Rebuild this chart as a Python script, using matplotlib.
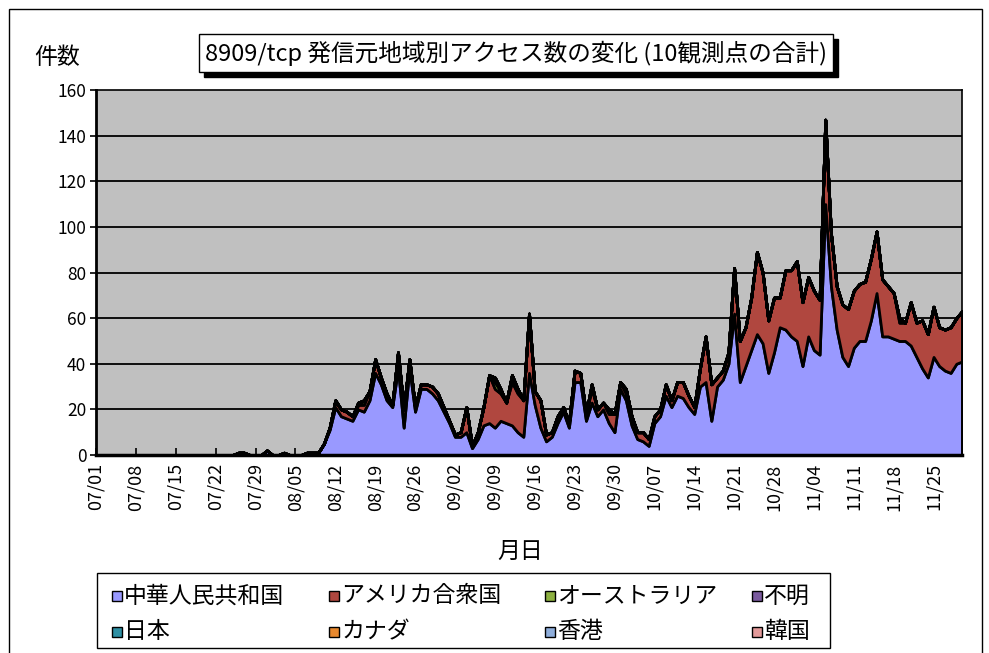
import matplotlib
matplotlib.use("Agg")
import matplotlib.pyplot as plt
from matplotlib.patches import Rectangle
import numpy as np
import pandas as pd

plt.rcParams['font.family'] = ['Noto Sans CJK JP', 'DejaVu Sans']

# daily dates 07/01 .. 11/30
dates = pd.date_range('2007-07-01', '2007-11-30', freq='D')
n = len(dates)

# total and China (from 07/01)
total = [0]*25 + [1, 1, 0, 0, 0, 2, 0, 0, 1, 0, 0, 0, 1, 1,
         1, 5, 12, 24, 20, 19, 17, 23, 24, 28, 42, 34, 27, 22, 45, 20, 42, 21, 31,
         31, 30, 27, 21, 15, 9, 10, 21, 4, 10, 21, 35, 34, 29, 23, 35, 29, 24, 62,
         28, 24, 9, 10, 17, 21, 14, 37, 36, 18, 31, 20, 23, 20, 18, 32, 29, 17,
         10, 10, 7, 17, 20, 31, 24, 32, 32, 26, 21, 38, 52, 31, 34, 37, 45, 82,
         50, 56, 69, 89, 80, 59, 69, 69, 81, 81, 85, 67, 78, 72, 68, 147, 97, 74,
         66, 64, 72, 75, 76, 86, 98, 77, 74, 71, 60, 58, 67, 58, 59, 53, 65, 56,
         55, 56, 60, 63]
china = [0]*25 + [1, 1, 0, 0, 0, 2, 0, 0, 1, 0, 0, 0, 1, 1,
         1, 5, 11, 21, 17, 16, 15, 20, 19, 24, 36, 31, 24, 21, 38, 12, 38, 19, 29,
         29, 27, 24, 19, 14, 8, 8, 10, 3, 7, 13, 14, 12, 15, 14, 13, 10, 8, 36,
         22, 12, 6, 8, 14, 19, 12, 32, 32, 15, 23, 17, 20, 14, 10, 29, 24, 13,
         7, 6, 4, 14, 17, 26, 21, 26, 25, 21, 18, 30, 32, 15, 30, 33, 40, 62,
         32, 39, 46, 53, 49, 36, 45, 56, 55, 52, 50, 39, 52, 46, 44, 110, 74, 55,
         43, 39, 47, 50, 50, 59, 71, 52, 52, 51, 50, 50, 48, 43, 38, 34, 43, 39,
         37, 36, 40, 41]

# small series: (day index, value)
australia_pts = {47: 2, 51: 2, 70: 3, 71: 1, 73: 3, 74: 2, 87: 2, 90: 2, 93: 2, 141: 2}
unknown_pts = {70: 2, 71: 1}
japan_pts = {46: 1}

labels = ['中華人民共和国', 'アメリカ合衆国', 'オーストラリア', '不明',
          '日本', 'カナダ', '香港', '韓国']
colors = ['#9999FF', '#B0473F', '#8DB040', '#7A5A9E',
          '#2E8FA3', '#E8892F', '#8FAEDB', '#E39A9A']

def from_pts(pts):
    a = np.zeros(n)
    for k, v in pts.items():
        a[k] = v
    return a

china = np.array(china, dtype=float)
australia = from_pts(australia_pts)
unknown = from_pts(unknown_pts)
japan = from_pts(japan_pts)
usa = np.clip(np.array(total, dtype=float) - china - australia - unknown - japan, 0, None)
canada = np.zeros(n)
hongkong = np.zeros(n)
korea = np.zeros(n)
series = [china, usa, australia, unknown, japan, canada, hongkong, korea]

W, H = 989, 653
fig = plt.figure(figsize=(W/100, H/100), dpi=100)
fig.patch.set_facecolor('white')
ax = fig.add_axes([96/W, 1-455/H, 866/W, 365/H])
ax.set_facecolor('#C0C0C0')

x = np.arange(n)
ax.stackplot(x, *series, colors=colors, edgecolor='black', linewidth=2.0)

ax.set_xlim(0, n-1)
ax.set_ylim(0, 160)
ax.set_yticks(range(0, 161, 20))
for yv in range(20, 160, 20):
    ax.axhline(yv, color='black', lw=1.3, zorder=0.5)
ax.set_axisbelow(True)

wk = list(range(0, n, 7))
ax.set_xticks(wk)
ax.set_xticklabels([dates[i].strftime('%m/%d') for i in wk], rotation=90, fontsize=13)
ax.tick_params(axis='x', direction='in', length=5, width=1.2, pad=6)
ax.tick_params(axis='y', direction='out', length=4, width=1.2, labelsize=12.5, pad=3)
for s in ax.spines.values():
    s.set_color('black')
    s.set_linewidth(1.2)
ax.spines['left'].set_linewidth(2)
ax.spines['bottom'].set_linewidth(2.5)

# outer chart border
fig.add_artist(Rectangle((9/W, -0.05), 973/W, 1.05 - 9/H, transform=fig.transFigure,
                         fill=False, edgecolor='black', lw=1))

# title box with drop shadow
title = '8909/tcp 発信元地域別アクセス数の変化 (10観測点の合計)'
t = fig.text(516/W, 1-53/H, title, fontsize=17, ha='center', va='center', color='black',
             zorder=5,
             bbox=dict(boxstyle='square,pad=0.25', facecolor='white', edgecolor='black', lw=1))
fig.canvas.draw()
bb = t.get_bbox_patch().get_window_extent()
fig.add_artist(Rectangle(((bb.x0+5)/W, (bb.y0-5)/H), bb.width/W, bb.height/H,
                         transform=fig.transFigure, facecolor='black', edgecolor='black',
                         zorder=4))

fig.text(57/W, 1-58/H, '件数', fontsize=16.5, ha='center', va='center')
fig.text(520/W, 1-551/H, '月日', fontsize=16.5, ha='center', va='center')

# legend box
fig.add_artist(Rectangle((97/W, 1-648/H), 733/W, 75/H, transform=fig.transFigure,
                         fill=False, edgecolor='black', lw=1))
col_x = [112, 329, 545, 752]
row_y = [596, 632]
for i, (lab, col) in enumerate(zip(labels, colors)):
    cx = col_x[i % 4]
    cy = row_y[i // 4]
    fig.add_artist(Rectangle((cx/W, 1-(cy+5)/H), 10/W, 10/H, transform=fig.transFigure,
                             facecolor=col, edgecolor='black', lw=1))
    fig.text((cx+12)/W, 1-cy/H, lab, fontsize=16.5, ha='left', va='center')

fig.savefig('out.png', dpi=100)
